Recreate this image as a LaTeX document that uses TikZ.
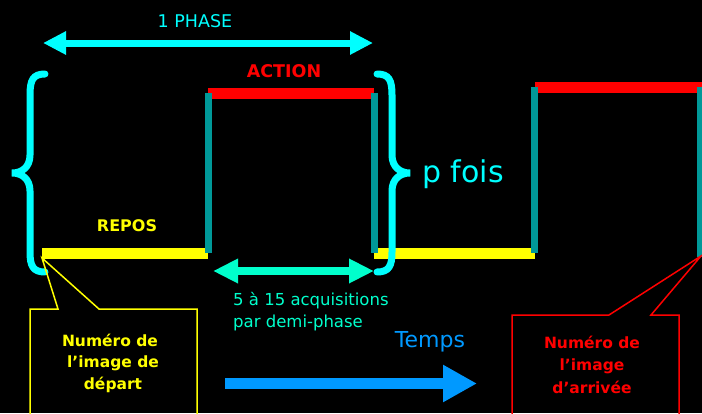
\documentclass[tikz,border=0pt]{standalone}
\usepackage{fontspec}
\setmainfont{DejaVu Sans}
\usetikzlibrary{arrows.meta}
\definecolor{cyn}{HTML}{00FFFF}
\definecolor{aqua}{HTML}{00FFCC}
\definecolor{tealx}{HTML}{009999}
\definecolor{redx}{HTML}{FF0000}
\definecolor{yel}{HTML}{FFFF00}
\definecolor{bluex}{HTML}{0099FF}
\tikzset{
  lbl/.style={inner sep=0pt, anchor=base},
  redbar/.style={redx, line width=11pt},
  yelbar/.style={yel, line width=11pt},
  tealbar/.style={tealx, line width=7pt},
  brace/.style={cyn, line width=7pt, line cap=round},
  callout/.style={line width=1.5pt},
  calltext/.style={lbl, font=\bfseries\fontsize{15.5}{20}\selectfont},
}
\begin{document}
\begin{tikzpicture}[x=1pt,y=-1pt]
\path[use as bounding box, fill=black] (0,0) rectangle (702,413);
\clip (0,0) rectangle (702,413);

% coordinates
\coordinate (ph1) at (43,43);
\coordinate (ph2) at (373,43);
\coordinate (dp1) at (213,271);
\coordinate (dp2) at (374,271);
\coordinate (t1) at (225,383.5);
\coordinate (t2) at (477,383.5);

% phase arrow
\draw[cyn, line width=7pt, {Triangle[length=23pt,width=22pt]}-{Triangle[length=23pt,width=22pt]}] (ph1) -- (ph2);
\node[lbl, cyn, font=\fontsize{17.5}{20}\selectfont] (phase) at (195,27) {1 PHASE};

% bars
\draw[redbar] (208,93) -- (374,93);
\draw[redbar] (535,87) -- (704,87);
\draw[yelbar] (42,253) -- (208,253);
\draw[yelbar] (374,253) -- (535,253);

% braces
\draw[brace] (45,74) .. controls (33,74) and (30,80) .. (30,95) -- (30,155)
  .. controls (30,167) and (22,173) .. (12,173)
  .. controls (22,173) and (30,179) .. (30,191) -- (30,252)
  .. controls (30,266) and (33,272) .. (45,272);
\draw[brace] (377,74) .. controls (389,74) and (392,80) .. (392,95) -- (392,155)
  .. controls (392,167) and (400,173) .. (410,173)
  .. controls (400,173) and (392,179) .. (392,191) -- (392,252)
  .. controls (392,266) and (389,272) .. (377,272);

% teal verticals
\draw[tealbar] (208,93) -- (208,253);
\draw[tealbar] (374.5,93) -- (374.5,253);
\draw[tealbar] (534.5,87) -- (534.5,253);
\draw[tealbar] (700.5,87) -- (700.5,257);

% labels
\node[lbl, redx, font=\bfseries\fontsize{17.5}{20}\selectfont] (action) at (284,77) {ACTION};
\node[lbl, yel, font=\bfseries\fontsize{16}{20}\selectfont] (repos) at (127,231) {REPOS};
\node[inner sep=0pt, anchor=base west, cyn, font=\fontsize{30}{34}\selectfont] (pfois) at (422,182) {p fois};

% demi-phase arrow
\draw[aqua, line width=8pt, {Triangle[length=25pt,width=23pt]}-{Triangle[length=25pt,width=23pt]}] (dp1) -- (dp2);
\node[inner sep=0pt, anchor=base west, aqua, font=\fontsize{16.5}{20}\selectfont] (acq1) at (233,305) {5 à 15 acquisitions};
\node[inner sep=0pt, anchor=base west, aqua, font=\fontsize{16.5}{20}\selectfont] (acq2) at (233,327) {par demi-phase};

% temps
\node[lbl, bluex, font=\fontsize{22}{26}\selectfont] (temps) at (430,347) {Temps};
\draw[bluex, line width=11pt, -{Triangle[length=34pt,width=35pt]}] (t1) -- (t2);

% callouts
\draw[yel, callout] (30,420) -- (30,309) -- (58,309) -- (42,258) -- (99,309) -- (197,309) -- (197,420);
\node[calltext, yel] (dep1) at (110,346) {Numéro de};
\node[calltext, yel] (dep2) at (113,367) {l’image de};
\node[calltext, yel] (dep3) at (113,389) {départ};

\draw[redx, callout] (512,420) -- (512,315) -- (609,315) -- (701,256) -- (651,315) -- (679,315) -- (679,420);
\node[calltext, redx] (arr1) at (592,348) {Numéro de};
\node[calltext, redx] (arr2) at (592,370) {l’image};
\node[calltext, redx] (arr3) at (592,393) {d’arrivée};
\end{tikzpicture}
\end{document}
